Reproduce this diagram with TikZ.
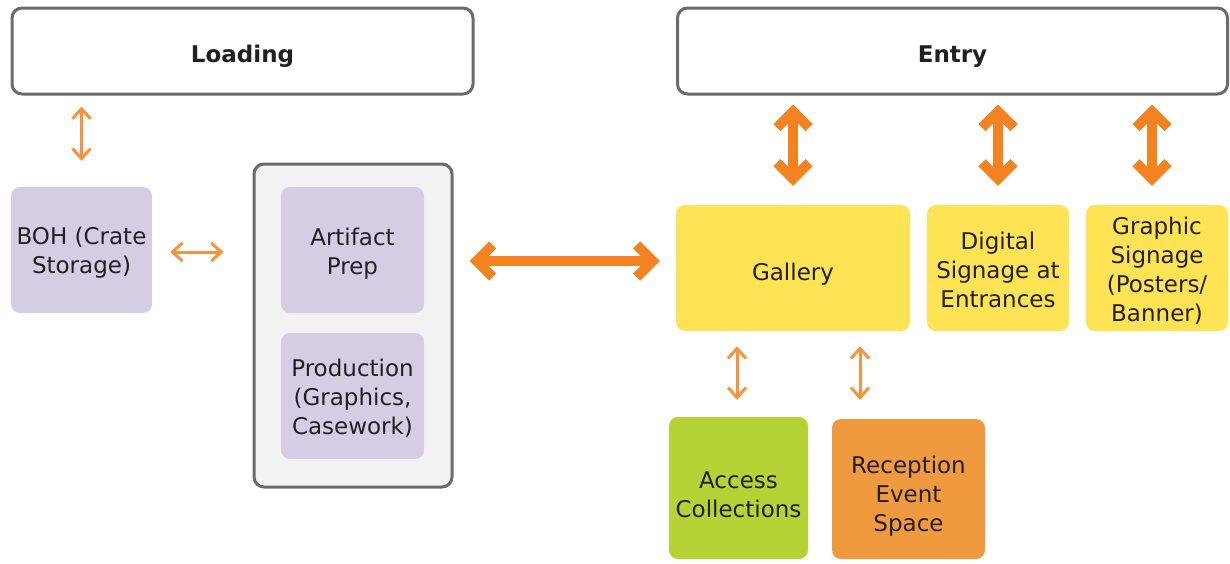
\documentclass[tikz,border=0pt]{standalone}
\usepackage{fontspec}
\setmainfont{DejaVu Sans}
\usetikzlibrary{arrows.meta}
\definecolor{boxgray}{HTML}{6B6B6B}
\definecolor{groupfill}{HTML}{F2F2F2}
\definecolor{lavender}{HTML}{D6CCE4}
\definecolor{galleryyellow}{HTML}{FEE354}
\definecolor{accessgreen}{HTML}{B5D334}
\definecolor{receptionorange}{HTML}{EF9A3F}
\definecolor{arrowdark}{HTML}{F58220}
\definecolor{arrowlight}{HTML}{F7923D}
\definecolor{inkdark}{HTML}{231F20}

\begin{document}
\begin{tikzpicture}[x=1pt, y=-1pt,
		font=\fontsize{23}{29}\selectfont, text=inkdark,
		zone/.style={draw=boxgray, line width=3pt, fill=white, rounded corners=10pt, inner sep=0pt},
		room/.style={rounded corners=9pt, inner sep=0pt, align=center},
		thinarrow/.style={draw=arrowlight, line width=3pt, {Straight Barb[length=10pt,width=18pt]}-{Straight Barb[length=10pt,width=18pt]}},
		thickarrow/.style={draw=arrowdark, line width=10pt, {Straight Barb[length=16pt,width=32pt]}-{Straight Barb[length=16pt,width=32pt]}}]
			%%%%% START %%%%%
			\useasboundingbox (0, 0) rectangle (1230, 563);
			
			\node[zone, text height=27.5pt, minimum width=461pt, minimum height=86pt] (loading) at (242.5, 51) {\textbf{Loading}};
			\node[zone, text height=27.5pt, minimum width=550pt, minimum height=86pt] (entry) at (952.5, 51) {\textbf{Entry}};
			
			\node[room, fill=lavender, text height=52.5pt, minimum width=141pt, minimum height=126pt] (boh) at (81.5, 250) {BOH (Crate\\Storage)};
			
			\node[zone, fill=groupfill, minimum width=198pt, minimum height=323pt] (group) at (353, 325.5) {};
			\node[room, fill=lavender, text height=54.5pt, minimum width=143pt, minimum height=126pt] (artifact) at (352.5, 250) {Artifact\\Prep};
			\node[room, fill=lavender, text height=79.5pt, minimum width=143pt, minimum height=126pt] (production) at (352.5, 396) {Production\\(Graphics,\\Casework)};
			
			\node[room, fill=galleryyellow, text height=29.5pt, minimum width=234pt, minimum height=126pt] (gallery) at (793, 268) {Gallery};
			\node[room, fill=galleryyellow, text height=79.5pt, minimum width=142pt, minimum height=126pt] (digital) at (998, 268) {Digital\\Signage at\\Entrances};
			\node[room, fill=galleryyellow, text height=110.5pt, minimum width=142pt, minimum height=126pt] (graphic) at (1157, 268) {Graphic\\Signage\\(Posters/\\Banner)};
			
			\node[room, fill=accessgreen, text height=58.5pt, minimum width=139pt, minimum height=142pt] (access) at (738.5, 488) {Access\\Collections};
			\node[room, fill=receptionorange, text height=89.5pt, minimum width=153pt, minimum height=140pt] (reception) at (908.5, 489) {Reception\\Event\\Space};
			
			% left side
			\draw[thinarrow, shorten <=11pt, shorten >=26pt] (boh.north |- loading.south) -- (boh.north);
			\draw[thinarrow, shorten <=18pt, shorten >=29pt] ([yshift=-2pt]boh.east) -- ([yshift=-2pt]boh.east -| group.west);
			\draw[thickarrow, shorten <=16pt, shorten >=16pt] ([yshift=7pt]gallery.west -| group.east) -- ([yshift=7pt]gallery.west);
			
			% entry
			\draw[thickarrow, shorten <=9pt, shorten >=19pt] (gallery.north |- entry.south) -- (gallery.north);
			\draw[thickarrow, shorten <=9pt, shorten >=19pt] (digital.north |- entry.south) -- (digital.north);
			\draw[thickarrow, shorten <=9pt, shorten >=19pt] ([xshift=-5pt]graphic.north |- entry.south) -- ([xshift=-5pt]graphic.north);
			
			% below gallery
			\draw[thinarrow, shorten <=15pt, shorten >=17pt] ([xshift=-1.5pt]access.north |- gallery.south) -- ([xshift=-1.5pt]access.north);
			\draw[thinarrow, shorten <=15pt, shorten >=19pt] ([xshift=67pt]gallery.south) -- ([xshift=67pt]gallery.south |- reception.north);
			%%%%% END %%%%%
		\end{tikzpicture}
\end{document}
